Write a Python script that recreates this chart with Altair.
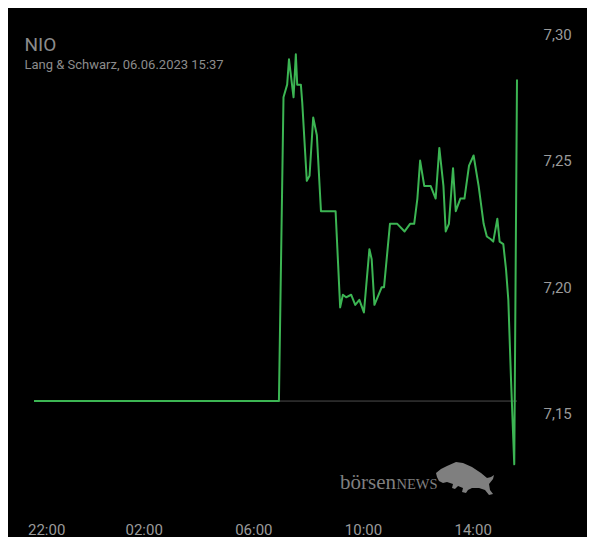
import altair as alt
import pandas as pd

# ---- data ----
times = ["22:00", "06:56", "07:06", "07:14", "07:18", "07:28", "07:33", "07:36", "07:44", "07:47",
         "07:57", "08:03", "08:11", "08:19", "08:28", "09:00", "09:10", "09:16", "09:23", "09:34",
         "09:43", "09:52", "10:02", "10:14", "10:19", "10:25", "10:41", "10:46", "10:59", "11:15",
         "11:31", "11:43", "11:52", "11:59", "12:05", "12:14", "12:28", "12:39", "12:47", "12:56",
         "13:01", "13:08", "13:17", "13:23", "13:33", "13:42", "13:52", "14:02", "14:13", "14:24",
         "14:31", "14:39", "14:45", "14:54", "14:59", "15:07", "15:13", "15:18", "15:24", "15:31",
         "15:37"]
prices = [7.155, 7.155, 7.275, 7.280, 7.290, 7.275, 7.292, 7.280, 7.280, 7.273,
          7.242, 7.244, 7.267, 7.260, 7.230, 7.230, 7.192, 7.197, 7.196, 7.197,
          7.193, 7.195, 7.190, 7.215, 7.211, 7.193, 7.200, 7.200, 7.225, 7.225,
          7.222, 7.225, 7.225, 7.235, 7.250, 7.240, 7.240, 7.235, 7.255, 7.240,
          7.222, 7.225, 7.247, 7.230, 7.235, 7.235, 7.248, 7.252, 7.240, 7.225,
          7.220, 7.219, 7.218, 7.227, 7.218, 7.217, 7.207, 7.195, 7.163, 7.130,
          7.282]
reference_price = 7.155
x_ticks = ["22:00", "02:00", "06:00", "10:00", "14:00"]
y_ticks = [7.15, 7.20, 7.25, 7.30]
title_text = "NIO"
subtitle_text = "Lang & Schwarz, 06.06.2023 15:37"
start_time, end_time = "22:00", "15:37"


def hours_since_start(t):
    h, m = map(int, t.split(":"))
    v = h + m / 60
    return v - 22 if h >= 22 else v + 2


df = pd.DataFrame({"t": [hours_since_start(t) for t in times], "price": prices})

GREEN = "#3cb553"
GREY_TXT = "#9a9a9a"
WM = "#7f7f7f"

x_enc = alt.X(
    "t:Q",
    scale=alt.Scale(domain=[hours_since_start(start_time), hours_since_start(end_time)], nice=False, zero=False),
    axis=alt.Axis(
        values=[hours_since_start(t) for t in x_ticks],
        labelExpr="format((22 + datum.value) % 24, '02d') + ':00'",
        title=None, domain=False, ticks=False, grid=False,
        labelFont="Roboto", labelFontSize=15, labelColor=GREY_TXT,
        labelPadding=45, labelFlush=True, labelFlushOffset=6.5,
    ),
)
y_enc = alt.Y(
    "price:Q",
    scale=alt.Scale(domain=[7.125, 7.30], nice=False, zero=False),
    axis=alt.Axis(
        orient="right", values=y_ticks,
        labelExpr="replace(format(datum.value, '.2f'), '.', ',')",
        title=None, domain=False, ticks=False, grid=False,
        labelFont="Roboto", labelFontSize=15, labelColor=GREY_TXT,
        labelPadding=26, labelAlign="left",
    ),
)

ref = alt.Chart(pd.DataFrame({"p": [reference_price]})).mark_rule(
    color="#4d4d4d", strokeWidth=1
).encode(y=alt.Y("p:Q"))

line = alt.Chart(df).mark_line(color=GREEN, strokeWidth=2, strokeJoin="round").encode(x=x_enc, y=y_enc)

one = pd.DataFrame({"a": [0]})
wm1 = alt.Chart(one).mark_text(
    text="börsen", font="Liberation Serif", fontSize=21, color=WM,
    align="left", baseline="alphabetic"
).encode(x=alt.value(306), y=alt.value(455))
wm2 = alt.Chart(one).mark_text(
    text="NEWS", font="Liberation Serif", fontSize=14.5, color=WM,
    align="left", baseline="alphabetic"
).encode(x=alt.value(362.5), y=alt.value(455))

bull_path = ("M-1,-0.19 L-0.828,-0.328 L-0.621,-0.431 L-0.31,-0.569 L-0.069,-0.534 "
             "L0.241,-0.397 L0.552,-0.19 L0.759,-0.017 L0.897,-0.052 L1,-0.121 L0.966,0.017 "
             "L0.828,0.19 L0.862,0.397 L0.966,0.534 L0.828,0.569 L0.69,0.397 L0.483,0.328 "
             "L0.241,0.328 L0.103,0.397 L0.034,0.5 L-0.103,0.466 L-0.069,0.328 L-0.241,0.259 "
             "L-0.345,0.362 L-0.448,0.328 L-0.414,0.19 L-0.621,0.121 L-0.759,0.155 "
             "L-0.897,0.086 L-0.966,-0.052 Z")
bull = alt.Chart(one).mark_point(
    shape=bull_path, filled=True, color=WM, opacity=1, size=3364, strokeWidth=0
).encode(x=alt.value(431), y=alt.value(444.5))

chart = alt.layer(ref, line, wm1, wm2, bull).properties(
    width=483, height=443,
    autosize=alt.AutoSizeParams(type="none"),
    padding={"left": 26, "top": 26, "right": 70, "bottom": 60},
    background="#000000",
    usermeta={"embedOptions": {
        "defaultStyle": "html, body { background-color: #000000 !important; }"
    }},
    title=alt.TitleParams(
        text=title_text, subtitle=subtitle_text, anchor="start",
        font="Roboto", fontSize=19, fontWeight="normal", color="#8c8c8c",
        subtitleFont="Roboto", subtitleFontSize=13, subtitleColor="#8c8c8c",
        subtitlePadding=4, dx=-3, dy=49,
    ),
).configure_view(stroke=None)

chart.save("out.html", embed_options={"renderer": "svg", "actions": False})
